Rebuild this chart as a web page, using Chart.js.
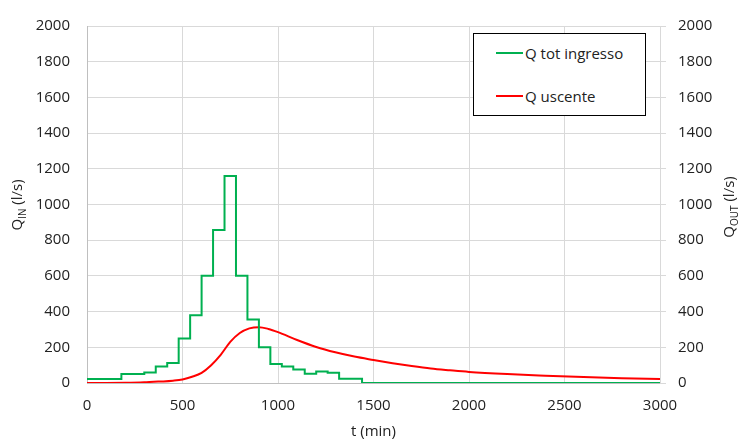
<!DOCTYPE html>
<html>
<head>
<meta charset="utf-8">
<script src="https://cdn.jsdelivr.net/npm/chart.js@4/dist/chart.umd.min.js"></script>
<style>
    body { margin: 0; background: #fff; }
    #wrap { position: relative; width: 741px; height: 443px; }
    #legend {
        position: absolute; left: 473px; top: 33px; width: 173px; height: 83px;
        border: 1px solid #000; background: #fff; box-sizing: border-box;
        font-family: 'Open Sans', sans-serif; font-size: 15px; color: #222;
    }
    .item { position: absolute; left: 22px; display: flex; align-items: center; }
    .item span.sw { display: inline-block; width: 27px; height: 2px; margin-right: 2px; }
</style>
</head>
<body>
<div id="wrap">
    <canvas id="chart" width="741" height="443"></canvas>
    <div id="legend">
        <div class="item" style="top: 9px;"><span class="sw" style="background:#00b050"></span>Q tot ingresso</div>
        <div class="item" style="top: 52px;"><span class="sw" style="background:#ff0000"></span>Q uscente</div>
    </div>
</div>
<script>
// portata in ingresso (a gradini, inizio di ogni intervallo)
const inT = [0, 180, 300, 360, 420, 480, 540, 600, 660, 720, 780, 840, 900, 960, 1020, 1080, 1140, 1200, 1260, 1320, 1440, 3000];
const inQ = [22, 50, 59, 92, 112, 250, 379, 601, 857, 1160, 601, 356, 200, 107, 92, 76, 52, 64, 57, 24, 0, 0];

// portata uscente
const outT = [0, 100, 200, 300, 350, 400, 450, 500, 550, 600, 650, 700, 750, 800, 850, 900, 950, 1000, 1100, 1200, 1300, 1400, 1500, 1600, 1700, 1800, 1900, 2000, 2200, 2400, 2600, 2800, 3000];
const outQ = [0, 0, 1, 4, 7, 9, 13, 20, 35, 57, 100, 158, 230, 280, 306, 313, 303, 285, 241, 202, 172, 148, 129, 111, 95, 81, 71, 62, 50, 41, 33, 27, 22];

const xTicks = [0, 500, 1000, 1500, 2000, 2500, 3000];

const FONT = 'Open Sans';
const gridColor = '#d9d9d9';
const textColor = '#222';

// titoli degli assi y con pedice
const yTitles = {
    id: 'yTitles',
    afterDraw(chart) {
        const ctx = chart.ctx;
        function draw(x, y, main, sub, rest) {
            ctx.save();
            ctx.translate(x, y);
            ctx.rotate(-Math.PI / 2);
            ctx.fillStyle = textColor;
            ctx.textBaseline = 'middle';
            ctx.font = '15px ' + FONT;
            const w1 = ctx.measureText(main).width;
            const w3 = ctx.measureText(rest).width;
            ctx.font = '10px ' + FONT;
            const w2 = ctx.measureText(sub).width;
            let start = -(w1 + w2 + w3) / 2;
            ctx.font = '15px ' + FONT;
            ctx.fillText(main, start, 0);
            ctx.font = '10px ' + FONT;
            ctx.fillText(sub, start + w1, 5);
            ctx.font = '15px ' + FONT;
            ctx.fillText(rest, start + w1 + w2, 0);
            ctx.restore();
        }
        draw(18, 205, 'Q', 'IN', ' (l/s)');
        draw(730, 207, 'Q', 'OUT', ' (l/s)');
    }
};

const plain = v => String(v);

new Chart(document.getElementById('chart').getContext('2d'), {
    type: 'line',
    data: {
        datasets: [{
            label: 'Q tot ingresso',
            data: inT.map((t, i) => ({ x: t, y: inQ[i] })),
            borderColor: '#00b050',
            borderWidth: 2,
            stepped: true,
            pointRadius: 0,
            yAxisID: 'y'
        }, {
            label: 'Q uscente',
            data: outT.map((t, i) => ({ x: t, y: outQ[i] })),
            borderColor: '#ff0000',
            borderWidth: 2,
            cubicInterpolationMode: 'monotone',
            pointRadius: 0,
            yAxisID: 'y'
        }]
    },
    options: {
        responsive: false,
        animation: false,
        layout: { padding: { top: 20, right: 0, left: 0, bottom: 0 } },
        plugins: {
            legend: { display: false },
            tooltip: { enabled: false }
        },
        scales: {
            x: {
                type: 'linear',
                min: 0, max: 3000,
                afterBuildTicks: axis => { axis.ticks = xTicks.map(v => ({ value: v })); },
                afterFit: axis => { axis.height = 60; },
                grid: { color: gridColor, drawTicks: false },
                border: { color: '#bfbfbf' },
                ticks: { padding: 14, color: textColor, font: { family: FONT, size: 15 }, callback: plain },
                title: { display: true, text: 't (min)', color: textColor, font: { family: FONT, size: 15 }, padding: 2 }
            },
            y: {
                position: 'left',
                min: 0, max: 2000,
                afterFit: axis => { axis.width = 87; },
                grid: { color: gridColor, drawTicks: false },
                border: { color: '#bfbfbf' },
                ticks: { stepSize: 200, padding: 17, color: textColor, font: { family: FONT, size: 15 }, callback: plain }
            },
            y2: {
                position: 'right',
                min: 0, max: 2000,
                afterFit: axis => { axis.width = 81; },
                grid: { color: gridColor, drawOnChartArea: false, tickLength: 6 },
                border: { color: gridColor },
                ticks: { stepSize: 200, padding: 12, color: textColor, font: { family: FONT, size: 15 }, callback: plain }
            }
        }
    },
    plugins: [yTitles]
});
</script>
</body>
</html>
